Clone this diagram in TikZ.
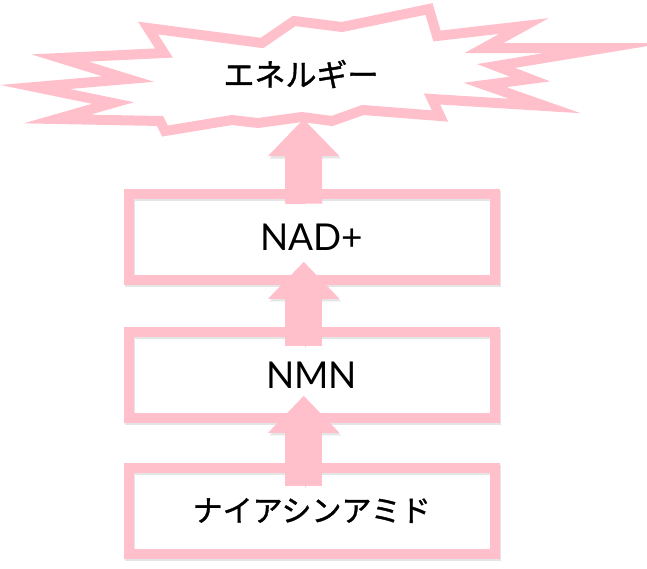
\documentclass[tikz,border=0pt]{standalone}
\usepackage{fontspec}
\setmainfont{Lato}
\newfontfamily\jpfont[FakeBold=1.2]{Noto Sans CJK JP}
\usetikzlibrary{arrows.meta, calc}
\definecolor{burstpink}{HTML}{FFC0CB}

\begin{document}
\begin{tikzpicture}[
    x=1pt, y=-1pt,
    softshadow/.style={preaction={draw=black!10,
                       transform canvas={shift={(1.5pt,-2.5pt)}}}},
    stepbox/.style={draw=burstpink, line width=10pt, minimum width=366pt,
                    minimum height=86pt, outer sep=0pt, inner sep=0pt,
                    softshadow, font=\fontsize{37}{40}\selectfont},
    boltarrow/.style={draw=burstpink, line width=37pt, softshadow,
                      -{Triangle[length=37pt, width=69pt]}},
    burst/.style={draw=burstpink, line width=10pt, line join=miter,
                  miter limit=100, softshadow},
  ]
  \useasboundingbox (0,0) rectangle (647,568);
  % explosion outline
  \draw[burst]
    (148,28) -- (262,43) -- (294,21) -- (342,27) -- (429,9) -- (437,36)
    -- (524,26) -- (484,48) -- (605,48) -- (496,66) -- (530,79) -- (485,85)
    -- (545,106) -- (432,99) -- (440,116) -- (363,110) -- (332,121)
    -- (302,117) -- (258,123) -- (232,120) -- (165,131) -- (160,121)
    -- (57,119) -- (113,103) -- (35,87) -- (128,79) -- (60,58) -- (164,53)
    -- cycle;
  \node (energy) at (301,74) {\jpfont\fontsize{31}{34}\selectfont エネルギー};
  \coordinate (spark) at (303.5,119);
  % steps
  \node[stepbox] (nad) at (311.75,236.75) {NAD+};
  \node[stepbox] (nmn) at (311.75,374.75) {NMN};
  \node[stepbox, font=\jpfont\fontsize{30}{34}\selectfont] (niacin)
    at (311.75,510.5) {ナイアシンアミド};
  \draw[boltarrow] ([xshift=-8pt,yshift=-10pt]nad.north) -- (spark);
  \draw[boltarrow] ([xshift=-8pt,yshift=-14pt]nmn.north)
    -- ([xshift=-8pt,yshift=18pt]nad.south);
  \draw[boltarrow] ([xshift=-8pt,yshift=-18pt]niacin.north)
    -- ([xshift=-8pt,yshift=22pt]nmn.south);
\end{tikzpicture}
\end{document}
